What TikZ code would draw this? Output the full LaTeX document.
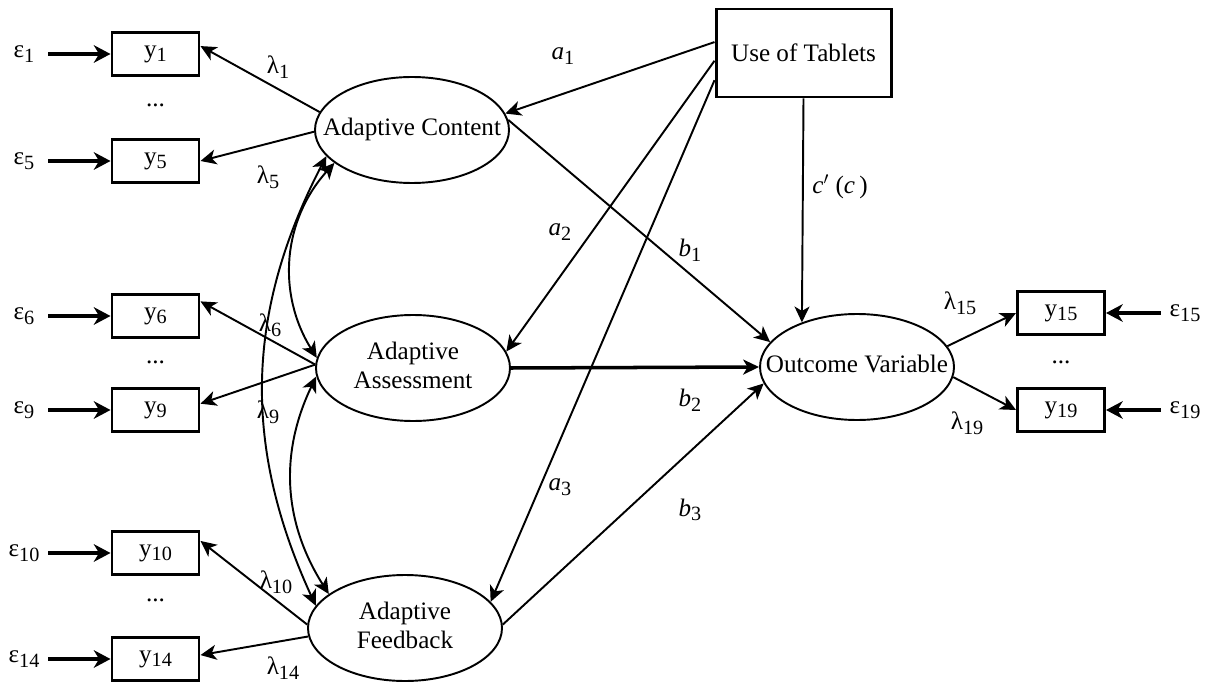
\documentclass[tikz,border=0pt]{standalone}
\usepackage{fontspec}
\setmainfont{Liberation Serif}
\usetikzlibrary{arrows.meta,shapes.geometric}

\newcommand{\lowsub}[1]{\raisebox{-0.4ex}{\fontsize{11.5}{12}\selectfont #1}}
\newcommand{\lattext}[1]{\makebox[0pt]{\begin{tabular}{@{}c@{}}#1\end{tabular}}}

\tikzset{
  every node/.style={font=\fontsize{14.3}{16.5}\selectfont},
  obs/.style={draw, line width=1.7pt, minimum width=1.74cm, minimum height=0.86cm, inner sep=0pt},
  latent/.style={draw, ellipse, line width=1.1pt, minimum width=3.88cm, minimum height=2.12cm, inner sep=0pt},
  err/.style={minimum width=0.96cm, inner sep=0pt},
  arr/.style={line width=1.1pt, -{Stealth[length=9pt,width=8.5pt,inset=2.5pt]}},
  errarr/.style={line width=2pt, -{Stealth[length=9.5pt,width=10pt,inset=3pt]}},
  covarr/.style={line width=1.1pt, {Stealth[length=9pt,width=8.5pt,inset=2.5pt]}-{Stealth[length=9pt,width=8.5pt,inset=2.5pt]}}
}

\begin{document}
\begin{tikzpicture}

\useasboundingbox (0,0) rectangle (24.14,-13.66);

% Latent variables
\node[latent] (AC) at (8.24,-2.60) {\lattext{Adaptive Content}};
\node[latent] (AA) at (8.26,-7.36) {\lattext{Adaptive\\Assessment}};
\node[latent] (AF) at (8.10,-12.56) {\lattext{Adaptive\\Feedback}};
\node[latent] (OV) at (17.14,-7.34) {\lattext{Outcome Variable}};
\node[draw, line width=1.7pt, minimum width=3.5cm, minimum height=1.76cm] (UT) at (16.07,-1.06) {Use of Tablets};

% Indicators
\node[obs] (y1) at (3.11,-1.08) {y\lowsub{1}};
\node (d1) at (3.11,-2.10) {...};
\node[obs] (y5) at (3.11,-3.22) {y\lowsub{5}};
\node[obs] (y6) at (3.11,-6.32) {y\lowsub{6}};
\node (d2) at (3.11,-7.24) {...};
\node[obs] (y9) at (3.11,-8.20) {y\lowsub{9}};
\node[obs] (y10) at (3.11,-11.06) {y\lowsub{10}};
\node (d3) at (3.11,-12.00) {...};
\node[obs] (y14) at (3.11,-13.18) {y\lowsub{14}};
\node[obs] (y15) at (21.22,-6.26) {y\lowsub{15}};
\node (d4) at (21.22,-7.24) {...};
\node[obs] (y19) at (21.22,-8.20) {y\lowsub{19}};

% Errors
\node[err] (e1) at (0.48,-1.08) {ε\lowsub{1}};
\node[err] (e5) at (0.48,-3.22) {ε\lowsub{5}};
\node[err] (e6) at (0.48,-6.32) {ε\lowsub{6}};
\node[err] (e9) at (0.48,-8.20) {ε\lowsub{9}};
\node[err] (e10) at (0.48,-11.06) {ε\lowsub{10}};
\node[err] (e14) at (0.48,-13.18) {ε\lowsub{14}};
\node[err] (e15) at (23.70,-6.26) {ε\lowsub{15}};
\node[err] (e19) at (23.70,-8.20) {ε\lowsub{19}};

\draw[errarr] (e1) -- (y1);
\draw[errarr] (e5) -- (y5);
\draw[errarr] (e6) -- (y6);
\draw[errarr] (e9) -- (y9);
\draw[errarr] (e10) -- (y10);
\draw[errarr] (e14) -- (y14);
\draw[errarr] (e15) -- (y15);
\draw[errarr] (e19) -- (y19);

% Loadings
\draw[arr] (AC.169) -- (y1.10);
\draw[arr] (AC.181) -- (y5.east);
\draw[arr] (AA.178) -- (y6.18);
\draw[arr] (AA.178) -- (y9.8);
\draw[arr] (AF.178) -- (y10.15);
\draw[arr] (AF.185) -- (y14.5);
\draw[arr] (OV.13) -- (y15.west);
\draw[arr] (OV.354) -- (y19.west);

\node (l1) at (5.56,-1.34) {λ\lowsub{1}};
\node (l5) at (5.36,-3.54) {λ\lowsub{5}};
\node (l6) at (5.40,-6.50) {λ\lowsub{6}};
\node (l9) at (5.36,-8.24) {λ\lowsub{9}};
\node (l10) at (5.52,-11.64) {λ\lowsub{10}};
\node (l14) at (5.66,-13.36) {λ\lowsub{14}};
\node (l15) at (19.20,-6.06) {λ\lowsub{15}};
\node (l19) at (19.34,-8.46) {λ\lowsub{19}};

% Covariances
\draw[covarr] (AC.197) to[bend right=26] (AF.166);
\draw[covarr] (AC.203) to[bend right=37] (AA.174);
\draw[covarr] (AA.185) to[bend right=29] (AF.156);

% Paths
\draw[arr] (UT.173) -- (AC.10);
\draw[arr] (UT.185) -- (AA.10);
\draw[arr] (UT.197) -- (AF.17);
\draw[arr] (UT.south) -- (OV.141);
\draw[arr] (AC.6) -- (OV.164);
\draw[arr, line width=2pt] (AA.east) -- (OV.west);
\draw[arr] (AF.2) -- (OV.190);

\node (a1) at (11.26,-1.12) {\textit{a}\lowsub{1}};
\node (a2) at (11.20,-4.64) {\textit{a}\lowsub{2}};
\node (a3) at (11.20,-9.74) {\textit{a}\lowsub{3}};
\node (b1) at (13.80,-5.00) {\textit{b}\lowsub{1}};
\node (b2) at (13.80,-8.00) {\textit{b}\lowsub{2}};
\node (b3) at (13.80,-10.20) {\textit{b}\lowsub{3}};
\node (c) at (16.80,-3.74) {\textit{c}$'$\ (\textit{c}\,)};

\end{tikzpicture}
\end{document}
